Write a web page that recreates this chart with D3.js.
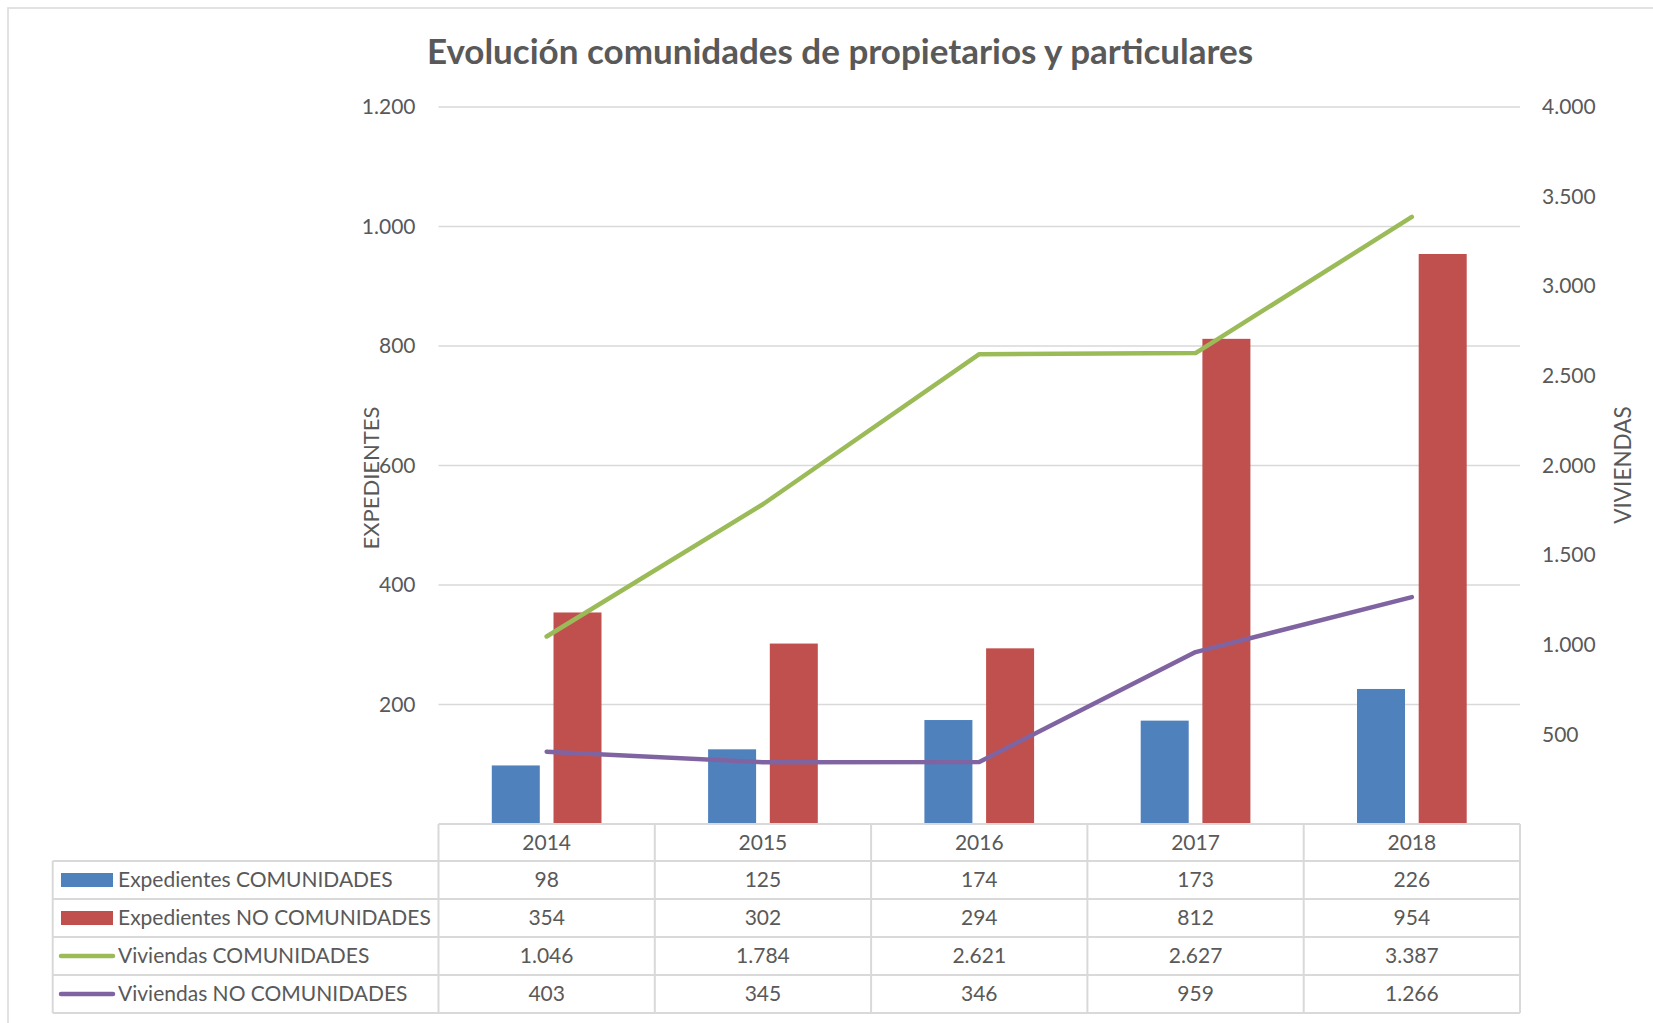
<!DOCTYPE html>
<html>
<head>
<meta charset="utf-8">
<script src="https://cdn.jsdelivr.net/npm/d3@7"></script>
<style>
  body { margin: 0; background: #fff; }
  svg { display: block; font-family: Lato, "Noto Sans", sans-serif; }
</style>
</head>
<body>
<svg id="chart" width="1653" height="1023"></svg>
<script>
/* datos */
let years = ["2014", "2015", "2016", "2017", "2018"];
let expComunidades = [98, 125, 174, 173, 226];
let expNoComunidades = [354, 302, 294, 812, 954];
let vivComunidades = [1046, 1784, 2621, 2627, 3387];
let vivNoComunidades = [403, 345, 346, 959, 1266];
let leftTicks = [200, 400, 600, 800, 1000, 1200];
let rightTicks = [500, 1000, 1500, 2000, 2500, 3000, 3500, 4000];

let seriesNames = ["Expedientes COMUNIDADES", "Expedientes NO COMUNIDADES",
                   "Viviendas COMUNIDADES", "Viviendas NO COMUNIDADES"];
let seriesColors = ["#4F81BD", "#C0504D", "#9BBB59", "#8064A2"];
let seriesValues = [expComunidades, expNoComunidades, vivComunidades, vivNoComunidades];

var es = d3.formatLocale({decimal: ",", thousands: ".", grouping: [3], currency: ["", "€"]});
var fmt = es.format(",d");

var svg = d3.select("#chart");
var textColor = "#595959", gridColor = "#D9D9D9";

var plotLeft = 438.5, plotRight = 1520, plotTop = 107, plotBottom = 824;

var x = d3.scaleBand().domain(years).range([plotLeft, plotRight]);
var xBar = d3.scaleBand().domain([0, 1]).range([0, x.bandwidth()])
    .paddingInner(0.222).paddingOuter(0.864);
var yLeft = d3.scaleLinear().domain([0, 1200]).range([plotBottom, plotTop]);
var yRight = d3.scaleLinear().domain([0, 4000]).range([plotBottom, plotTop]);

// borde del gráfico (sin borde inferior ni derecho visibles)
svg.append("rect")
    .attr("x", 8).attr("y", 8).attr("width", 1700).attr("height", 1100)
    .attr("fill", "none").attr("stroke", gridColor).attr("stroke-width", 1.5);

// título
svg.append("text")
    .attr("x", 840).attr("y", 64)
    .attr("text-anchor", "middle")
    .attr("font-size", 35).attr("font-weight", "bold")
    .attr("fill", textColor)
    .text("Evolución comunidades de propietarios y particulares");

// rejilla
svg.append("g")
    .selectAll("line")
    .data(leftTicks)
  .enter().append("line")
    .attr("x1", plotLeft).attr("x2", plotRight)
    .attr("y1", d => yLeft(d)).attr("y2", d => yLeft(d))
    .attr("stroke", gridColor).attr("stroke-width", 1.5);

// ejes
var axisLeft = svg.append("g")
    .attr("transform", "translate(" + (plotLeft - 23) + ",0)")
    .call(d3.axisLeft(yLeft).tickValues(leftTicks).tickFormat(fmt).tickSize(0).tickPadding(0));
var axisRight = svg.append("g")
    .attr("transform", "translate(" + (plotRight + 22) + ",0)")
    .call(d3.axisRight(yRight).tickValues(rightTicks).tickFormat(fmt).tickSize(0).tickPadding(0));
[axisLeft, axisRight].forEach(function(a) {
    a.select(".domain").remove();
    a.selectAll("text")
        .attr("font-family", "Lato, 'Noto Sans', sans-serif")
        .attr("font-size", 21).attr("fill", textColor);
});

svg.append("text")
    .attr("transform", "translate(371,478) rotate(-90)")
    .attr("text-anchor", "middle").attr("dy", "0.35em")
    .attr("font-size", 22).attr("fill", textColor)
    .text("EXPEDIENTES");
svg.append("text")
    .attr("transform", "translate(1623,465) rotate(-90)")
    .attr("text-anchor", "middle").attr("dy", "0.35em")
    .attr("font-size", 22.5).attr("fill", textColor)
    .text("VIVIENDAS");

// barras
[0, 1].forEach(function(s) {
    svg.append("g")
        .selectAll("rect")
        .data(seriesValues[s])
      .enter().append("rect")
        .attr("x", (d, i) => x(years[i]) + xBar(s))
        .attr("width", xBar.bandwidth())
        .attr("y", d => yLeft(d))
        .attr("height", d => plotBottom - yLeft(d))
        .attr("fill", seriesColors[s]);
});

// líneas
var line = d3.line()
    .x((d, i) => x(years[i]) + x.bandwidth() / 2)
    .y(d => yRight(d));
[2, 3].forEach(function(s) {
    svg.append("path")
        .datum(seriesValues[s])
        .attr("d", line)
        .attr("fill", "none")
        .attr("stroke", seriesColors[s])
        .attr("stroke-width", 4.5)
        .attr("stroke-linecap", "round")
        .attr("stroke-linejoin", "round");
});

// tabla de datos
var tableLeft = 52.7, headerBottom = 861, tableBottom = 1013;
var row = d3.scaleBand().domain(seriesNames).range([headerBottom, tableBottom]);
var tbl = svg.append("g").attr("stroke", gridColor).attr("stroke-width", 2);

tbl.append("line").attr("x1", plotLeft).attr("x2", plotRight)
    .attr("y1", plotBottom).attr("y2", plotBottom);
tbl.selectAll("line.h")
    .data(seriesNames)
  .enter().append("line")
    .attr("x1", tableLeft).attr("x2", plotRight)
    .attr("y1", d => row(d)).attr("y2", d => row(d));
tbl.append("line").attr("x1", tableLeft).attr("x2", plotRight)
    .attr("y1", tableBottom).attr("y2", tableBottom);
tbl.append("line").attr("x1", tableLeft).attr("x2", tableLeft)
    .attr("y1", headerBottom).attr("y2", tableBottom);
tbl.selectAll("line.v")
    .data(years)
  .enter().append("line")
    .attr("x1", d => x(d)).attr("x2", d => x(d))
    .attr("y1", plotBottom).attr("y2", tableBottom);
tbl.append("line").attr("x1", plotRight).attr("x2", plotRight)
    .attr("y1", plotBottom).attr("y2", tableBottom);

// cabecera de años
svg.append("g")
    .selectAll("text")
    .data(years)
  .enter().append("text")
    .attr("x", d => x(d) + x.bandwidth() / 2)
    .attr("y", (plotBottom + headerBottom) / 2)
    .attr("dy", "0.35em").attr("text-anchor", "middle")
    .attr("font-size", 21).attr("fill", textColor)
    .text(d => d);

// filas
seriesNames.forEach(function(name, s) {
    var cy = row(name) + row.bandwidth() / 2;
    var g = svg.append("g");
    if (s < 2) {
        g.append("rect").attr("x", 61).attr("y", cy - 7).attr("width", 52).attr("height", 14)
            .attr("fill", seriesColors[s]);
    } else {
        g.append("line").attr("x1", 61).attr("x2", 113).attr("y1", cy).attr("y2", cy)
            .attr("stroke", seriesColors[s]).attr("stroke-width", 4.5).attr("stroke-linecap", "round");
    }
    g.append("text").attr("x", 118).attr("y", cy).attr("dy", "0.35em")
        .attr("font-size", 21).attr("fill", textColor).text(name);
    g.selectAll("text.v")
        .data(seriesValues[s])
      .enter().append("text")
        .attr("x", (d, i) => x(years[i]) + x.bandwidth() / 2)
        .attr("y", cy).attr("dy", "0.35em").attr("text-anchor", "middle")
        .attr("font-size", 21).attr("fill", textColor)
        .text(d => fmt(d));
});
</script>
</body>
</html>
